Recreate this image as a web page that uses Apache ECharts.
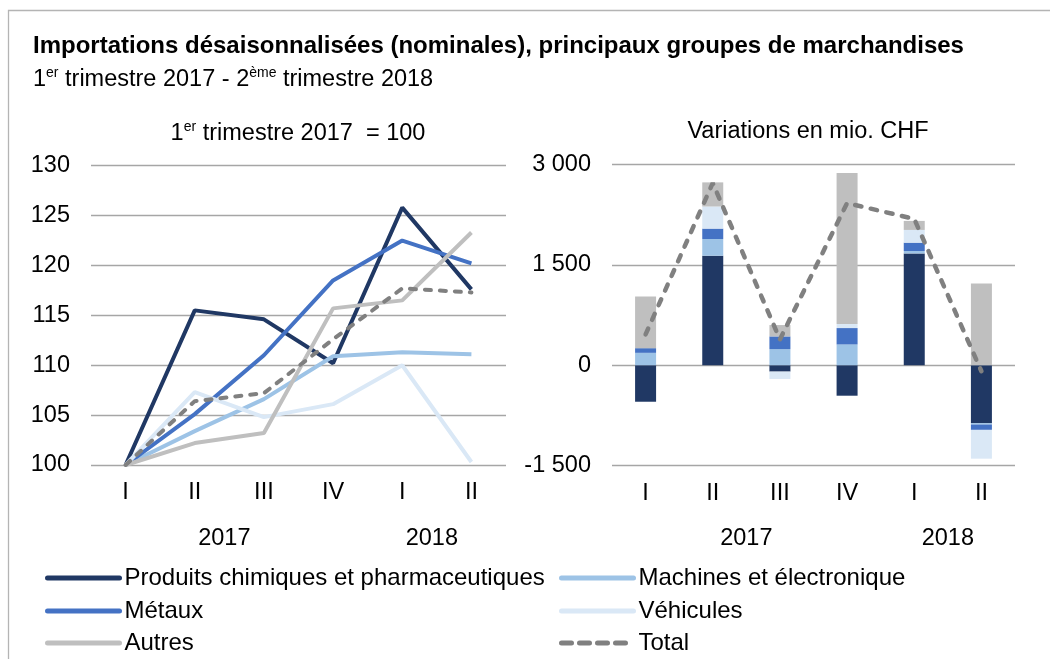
<!DOCTYPE html>
<html><head><meta charset="utf-8">
<script src="https://cdn.jsdelivr.net/npm/echarts@6/dist/echarts.min.js"></script>
<style>html,body{margin:0;padding:0;background:#fff}#c{width:1050px;height:659px}</style>
</head><body><div id="c"></div>
<script>
// ---- data ----
const quarters = ['I', 'II', 'III', 'IV', 'I', 'II'];
const years = ['2017', '2018'];
const yearSpans = [[0, 3], [4, 5]];
const names = ['Produits chimiques et pharmaceutiques', 'Machines et électronique', 'Métaux', 'Véhicules', 'Autres', 'Total'];

// index, 1er trimestre 2017 = 100
const idxChem     = [100, 115.5, 114.6, 110.2, 125.8, 117.6];
const idxMachines = [100, 103.4, 106.6, 110.9, 111.3, 111.1];
const idxMetals   = [100, 105.1, 111.0, 118.5, 122.5, 120.2];
const idxVehicles = [100, 107.3, 104.8, 106.1, 110.0, 100.3];
const idxAutres   = [100, 102.2, 103.2, 115.7, 116.5, 123.3];
const idxTotal    = [100, 106.4, 107.2, 112.6, 117.7, 117.3];

// variations en mio. CHF
const varChem     = [-545, 1635, -95, -455, 1670, -865];
const varMachines = [185, 250, 240, 310, 35, -20];
const varMetals   = [70, 155, 190, 245, 125, -80];
const varVehicles = [0, 330, -110, 60, 190, -430];
const varAutres   = [770, 360, 170, 2255, 135, 1220];
const varTotal    = [460, 2720, 385, 2420, 2185, -90];

const leftTicks = {min: 100, max: 130, interval: 5};
const rightTicks = {min: -1500, max: 3000, interval: 1500};

// ---- styles ----
const colors = ['#203864', '#9DC3E6', '#4472C4', '#DAE8F6', '#BFBFBF', '#808080'];
const FONT = 'Liberation Sans, Arial, sans-serif';
const gridColor = '#A6A6A6';
const FS = 23.5;

const chart = echarts.init(document.getElementById('c'), null, {renderer: 'canvas'});

const idxData = [idxChem, idxMachines, idxMetals, idxVehicles, idxAutres, idxTotal];
const varData = [varChem, varMachines, varMetals, varVehicles, varAutres];

const fmt = v => {
  const s = Math.abs(v).toString().replace(/\B(?=(\d{3})+(?!\d))/g, ' ');
  return (v < 0 ? '-' : '') + s;
};

const series = [];
idxData.forEach((d, i) => {
  series.push({
    name: names[i], type: 'line', xAxisIndex: 0, yAxisIndex: 0, data: d,
    symbol: 'none', smooth: false, z: 2 + i,
    lineStyle: {color: colors[i], width: 4, type: i === 5 ? [6, 9] : 'solid', cap: i === 5 ? 'round' : 'butt'},
    itemStyle: {color: colors[i]}
  });
});
varData.forEach((d, i) => {
  series.push({
    name: names[i], type: 'bar', xAxisIndex: 1, yAxisIndex: 1, data: d,
    stack: 'v', barWidth: 21, itemStyle: {color: colors[i]}
  });
});
series.push({
  name: names[5], type: 'line', xAxisIndex: 1, yAxisIndex: 1, data: varTotal,
  symbol: 'none', z: 10,
  lineStyle: {color: colors[5], width: 4.5, type: [6.5, 9.5], cap: 'round'}, itemStyle: {color: colors[5]}
});

const axisLabel = {color: '#000', fontSize: FS, fontFamily: FONT};
const rich = {
  n: {fontSize: FS, fontFamily: FONT, color: '#000', fontWeight: 'normal', lineHeight: 28},
  s: {fontSize: 14, fontFamily: FONT, color: '#000', fontWeight: 'normal', verticalAlign: 'top', lineHeight: 28}
};

// legend layout: two columns, three rows
const legendPos = [[45, 578], [559, 578], [45, 611], [559, 611], [45, 643], [559, 643]];
const legends = names.map((nm, i) => ({
  data: [nm], left: legendPos[i][0] - 5, top: legendPos[i][1] - 17,
  itemWidth: 72, itemHeight: 24, selectedMode: false,
  itemStyle: {opacity: 0},
  lineStyle: {width: 5, type: i === 5 ? [10, 8] : 'solid', cap: 'round'},
  textStyle: {fontSize: 24, fontFamily: FONT, color: '#000', lineHeight: 24}
}));

const option = {
  animation: false,
  backgroundColor: '#fff',
  title: [
    {text: 'Importations désaisonnalisées (nominales), principaux groupes de marchandises', left: 28, top: 29,
     textStyle: {fontSize: 24, fontWeight: 'bold', fontFamily: FONT, color: '#000'}},
    {text: '{n|1}{s|er}{n| trimestre 2017 - 2}{s|ème}{n| trimestre 2018}', left: 28, top: 61,
     textStyle: {fontWeight: 'normal', rich: rich}},
    {text: '{n|1}{s|er}{n| trimestre 2017  = 100}', left: 293, textAlign: 'center', top: 115,
     textStyle: {fontWeight: 'normal', rich: rich}},
    {text: 'Variations en mio. CHF', left: 803, textAlign: 'center', top: 115,
     textStyle: {fontSize: FS, fontWeight: 'normal', fontFamily: FONT, color: '#000'}}
  ],
  legend: legends,
  grid: [
    {left: 91, width: 415, top: 165.7, height: 299.3},
    {left: 612, width: 403, top: 164.3, height: 301.4}
  ],
  xAxis: [0, 1].map(g => ({
    type: 'category', gridIndex: g, data: quarters, boundaryGap: true,
    axisLine: {show: false}, axisTick: {show: false},
    axisLabel: Object.assign({margin: 16}, axisLabel)
  })),
  yAxis: [
    {type: 'value', gridIndex: 0, min: leftTicks.min, max: leftTicks.max, interval: leftTicks.interval,
     axisLine: {show: false}, axisTick: {show: false},
     axisLabel: Object.assign({margin: 21}, axisLabel),
     splitLine: {lineStyle: {color: gridColor, width: 1.3}}},
    {type: 'value', gridIndex: 1, min: rightTicks.min, max: rightTicks.max, interval: rightTicks.interval,
     axisLine: {show: false}, axisTick: {show: false},
     axisLabel: Object.assign({margin: 21, formatter: fmt}, axisLabel),
     splitLine: {lineStyle: {color: gridColor, width: 1.3}}}
  ],
  series: series
};
chart.setOption(option);

// year labels under the quarter groups
const graphics = [{
  type: 'rect', shape: {x: 8.5, y: 10.5, width: 1100, height: 700},
  style: {fill: null, stroke: '#B4B4B4', lineWidth: 1.3}, silent: true, z: 0
}];
const yearShift = [-5, 0];
[0, 1].forEach(g => {
  years.forEach((y, k) => {
    const a = chart.convertToPixel({xAxisIndex: g}, yearSpans[k][0]);
    const b = chart.convertToPixel({xAxisIndex: g}, yearSpans[k][1]);
    graphics.push({
      type: 'text', x: (a + b) / 2 + yearShift[g], y: 539,
      style: {text: y, fontSize: FS, fontFamily: FONT, fill: '#000', align: 'center', verticalAlign: 'middle'}
    });
  });
});
chart.setOption({graphic: graphics});
</script>
</body></html>
